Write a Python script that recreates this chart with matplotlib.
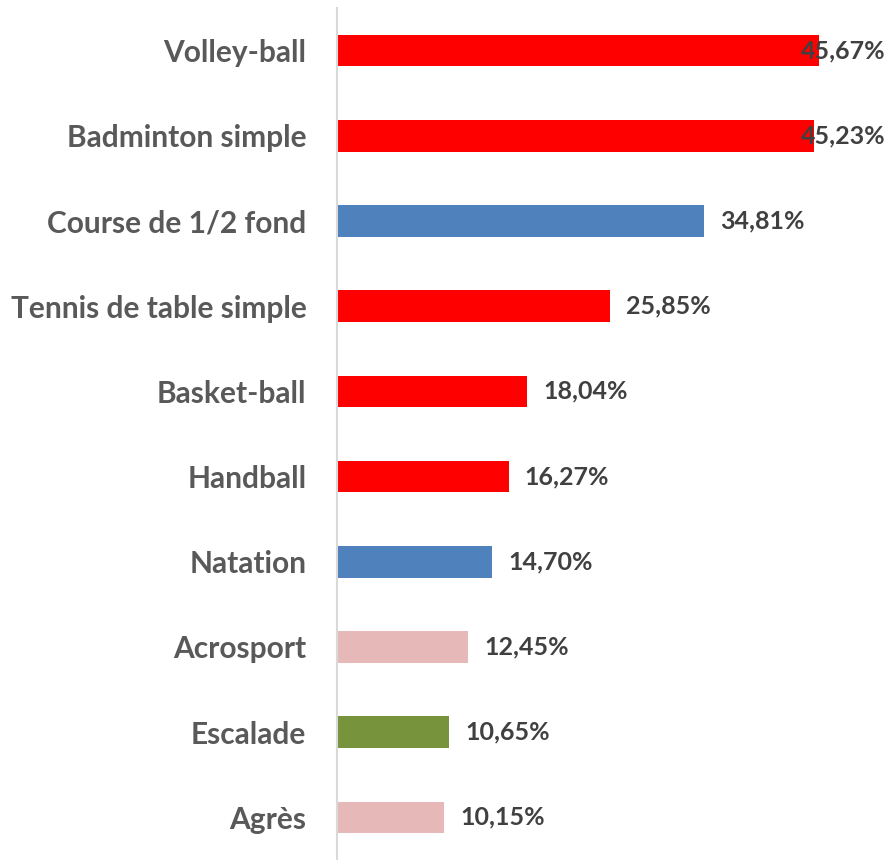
import matplotlib.pyplot as plt

categories = ["Volley-ball", "Badminton simple", "Course de 1/2 fond",
              "Tennis de table simple", "Basket-ball", "Handball", "Natation",
              "Acrosport", "Escalade", "Agrès"]
values = [45.67, 45.23, 34.81, 25.85, 18.04, 16.27, 14.70, 12.45, 10.65, 10.15]
colors = ["#FF0000", "#FF0000", "#4F81BD", "#FF0000", "#FF0000", "#FF0000",
          "#4F81BD", "#E6B9B8", "#77933C", "#E6B9B8"]

plt.rcParams['font.family'] = ['Lato', 'DejaVu Sans']

fig = plt.figure(figsize=(8.88, 8.6), dpi=100)
ax = fig.add_axes([337 / 888, 0, 1 - 337 / 888, 1 - 8 / 860])

y = list(range(len(categories)))
ax.barh(y, values, height=0.37, color=colors)
ax.set_xlim(0, 52.2)
ax.set_ylim(len(categories) - 0.5, -0.5)

ax.set_yticks(y)
ax.set_yticklabels(categories, fontsize=21.5, fontweight='bold', color='#595959')
ax.tick_params(axis='y', length=0, pad=22)
ax.set_xticks([])

for s in ['top', 'right', 'bottom']:
    ax.spines[s].set_visible(False)
ax.spines['left'].set_color('#D9D9D9')
ax.spines['left'].set_linewidth(1.5)

for i, v in enumerate(values):
    txt = f"{v:.2f}%".replace('.', ',')
    if v > 40:
        ax.text(52.0, i, txt, ha='right', va='center', fontsize=18,
                fontweight='bold', color='#404040')
    else:
        ax.annotate(txt, (v, i), xytext=(11.5, 0), textcoords='offset points',
                    ha='left', va='center', fontsize=18, fontweight='bold',
                    color='#404040')

fig.savefig('out.png', dpi=100)
